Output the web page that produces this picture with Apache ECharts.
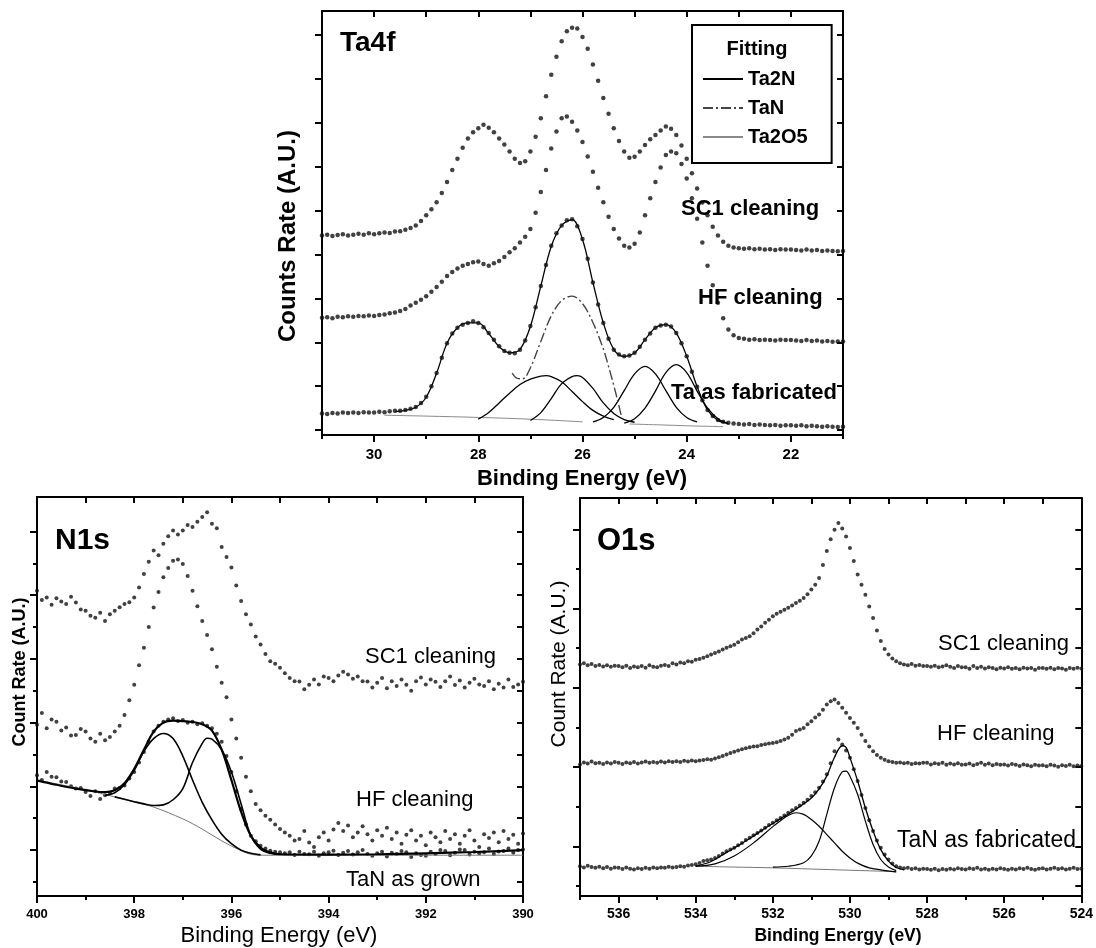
<!DOCTYPE html>
<html>
<head>
<meta charset="utf-8">
<title>XPS spectra: Ta4f, N1s, O1s</title>
<script src="https://cdn.jsdelivr.net/npm/echarts@6.0.0/dist/echarts.min.js"></script>
<style>
  html, body { margin: 0; padding: 0; background: #fff; }
  #chart { width: 1096px; height: 948px; }
</style>
</head>
<body>
<div id="chart"></div>
<script>
// ---------------- Ta4f panel (binding energy 31.0 -> 21.0 eV, step 0.1) ----------------
const ta4fStart = 31.0, ta4fStep = 0.1;
const ta4fSC1 = [
  4.43, 4.45, 4.42, 4.44, 4.46, 4.43, 4.45, 4.47, 4.45, 4.48,
  4.46, 4.48, 4.50, 4.49, 4.52, 4.53, 4.56, 4.60, 4.66, 4.76,
  4.89, 5.03, 5.19, 5.40, 5.65, 5.92, 6.18, 6.43, 6.64, 6.78,
  6.87, 6.95, 6.88, 6.78, 6.64, 6.50, 6.34, 6.18, 6.08, 6.12,
  6.34, 6.68, 7.10, 7.60, 8.09, 8.50, 8.85, 9.08, 9.16, 9.14,
  8.95, 8.68, 8.32, 7.95, 7.56, 7.20, 6.87, 6.58, 6.34, 6.20,
  6.22, 6.34, 6.49, 6.62, 6.72, 6.82, 6.91, 6.86, 6.72, 6.48,
  6.18, 5.85, 5.50, 5.18, 4.89, 4.63, 4.43, 4.29, 4.20, 4.16,
  4.14, 4.13, 4.14, 4.12, 4.13, 4.11, 4.12, 4.10, 4.12, 4.11,
  4.11, 4.10, 4.09, 4.11, 4.09, 4.10, 4.08, 4.09, 4.08, 4.07,
  4.08
];
const ta4fHF = [
  2.56, 2.57, 2.55, 2.58, 2.57, 2.59, 2.58, 2.60, 2.59, 2.61,
  2.60, 2.62, 2.63, 2.66, 2.68, 2.71, 2.76, 2.84, 2.90, 2.97,
  3.05, 3.15, 3.26, 3.38, 3.51, 3.60, 3.68, 3.74, 3.78, 3.82,
  3.84, 3.78, 3.74, 3.80, 3.85, 3.94, 4.05, 4.14, 4.27, 4.40,
  4.58, 4.95, 5.42, 5.92, 6.41, 6.80, 7.10, 7.14, 7.02, 6.82,
  6.56, 6.23, 5.88, 5.52, 5.19, 4.86, 4.58, 4.36, 4.20, 4.16,
  4.24, 4.50, 4.89, 5.28, 5.65, 5.98, 6.26, 6.34, 6.30, 6.06,
  5.73, 5.28, 4.81, 4.27, 3.74, 3.30, 2.90, 2.55, 2.29, 2.16,
  2.10, 2.08, 2.06, 2.07, 2.05, 2.06, 2.05, 2.04, 2.06, 2.05,
  2.05, 2.04, 2.03, 2.05, 2.03, 2.04, 2.02, 2.03, 2.01, 2.02,
  2.02
];
const ta4fAsFabricated = [
  0.38, 0.37, 0.39, 0.38, 0.40, 0.39, 0.40, 0.39, 0.41, 0.40,
  0.40, 0.42, 0.41, 0.43, 0.44, 0.44, 0.46, 0.49, 0.53, 0.62,
  0.76, 1.00, 1.30, 1.65, 1.98, 2.20, 2.33, 2.40, 2.44, 2.48,
  2.44, 2.34, 2.21, 2.06, 1.91, 1.80, 1.76, 1.75, 1.83, 2.04,
  2.37, 2.80, 3.28, 3.76, 4.20, 4.48, 4.66, 4.78, 4.80, 4.64,
  4.35, 3.90, 3.36, 2.86, 2.44, 2.08, 1.83, 1.72, 1.68, 1.70,
  1.76, 1.90, 2.06, 2.20, 2.33, 2.38, 2.40, 2.36, 2.21, 1.98,
  1.68, 1.33, 0.99, 0.68, 0.46, 0.32, 0.23, 0.19, 0.17, 0.15,
  0.14, 0.13, 0.14, 0.12, 0.13, 0.12, 0.11, 0.12, 0.10, 0.11,
  0.11, 0.10, 0.11, 0.09, 0.10, 0.09, 0.08, 0.09, 0.08, 0.07,
  0.08
];
// fitted components, [binding energy, counts]
const ta4fEnvelope = [[29.6,0.42],[29.4,0.45],[29.2,0.52],[29.0,0.75],[28.8,1.30],[28.6,1.98],[28.4,2.33],[28.2,2.44],[28.0,2.44],[27.8,2.20],[27.6,1.90],[27.4,1.76],[27.2,1.84],[27.0,2.36],[26.8,3.28],[26.6,4.18],[26.4,4.66],[26.2,4.79],[26.0,4.34],[25.8,3.36],[25.6,2.44],[25.4,1.84],[25.2,1.68],[25.0,1.76],[24.8,2.06],[24.6,2.33],[24.4,2.40],[24.2,2.21],[24.0,1.68],[23.8,0.99],[23.6,0.46],[23.4,0.22],[23.2,0.16]];
const ta4fBgHigh = [[29.8,0.34],[29.0,0.32],[28.0,0.29],[27.0,0.25],[26.0,0.19]];
const ta4fBgLow = [[25.1,0.14],[24.5,0.12],[24.0,0.10],[23.3,0.08]];
const ta4fPeakA = [[28.0,0.25],[27.8,0.40],[27.6,0.62],[27.4,0.84],[27.2,1.04],[27.0,1.16],[26.8,1.23],[26.7,1.24],[26.6,1.22],[26.4,1.10],[26.2,0.88],[26.0,0.65],[25.8,0.45],[25.6,0.32],[25.4,0.24]];
const ta4fPeakB = [[27.0,0.22],[26.8,0.40],[26.6,0.72],[26.4,1.06],[26.2,1.22],[26.1,1.24],[26.0,1.20],[25.8,0.95],[25.6,0.62],[25.4,0.38],[25.2,0.24],[25.0,0.18]];
const ta4fPeakC = [[25.8,0.19],[25.6,0.29],[25.4,0.52],[25.2,0.90],[25.0,1.28],[24.8,1.45],[24.6,1.28],[24.4,0.90],[24.2,0.52],[24.0,0.29],[23.8,0.19]];
const ta4fPeakD = [[25.2,0.16],[25.0,0.26],[24.8,0.50],[24.6,0.89],[24.4,1.31],[24.2,1.49],[24.0,1.31],[23.8,0.89],[23.6,0.50],[23.4,0.26],[23.2,0.14]];
const ta4fPeakTaN = [[27.35,1.30],[27.25,1.18],[27.15,1.17],[27.0,1.42],[26.8,2.02],[26.6,2.60],[26.4,2.95],[26.2,3.05],[26.0,2.88],[25.8,2.45],[25.6,1.85],[25.5,1.45],[25.4,1.02],[25.3,0.55],[25.25,0.30]];
const ta4fXMajor = [30, 28, 26, 24, 22];
const ta4fXMinor = [31, 29, 27, 25, 23, 21];
const ta4fYTicks = [0, 1, 2, 3, 4, 5, 6, 7, 8, 9];

// ---------------- N1s panel (400.0 -> 390.0 eV, step 0.1) ----------------
const n1sStart = 400.0, n1sStep = 0.1;
const n1sSC1 = [
  9.14, 8.85, 8.93, 8.70, 8.90, 8.80, 8.72, 8.95, 8.77, 8.55,
  8.51, 8.35, 8.29, 8.45, 8.19, 8.40, 8.51, 8.62, 8.72, 8.78,
  8.93, 9.24, 9.66, 10.05, 10.40, 10.25, 10.61, 10.85, 11.03, 10.90,
  11.03, 11.20, 11.14, 11.30, 11.45, 11.60, 11.24, 11.10, 10.51, 10.20,
  9.87, 9.30, 8.82, 8.40, 8.08, 7.70, 7.45, 7.15, 6.93, 6.85,
  6.72, 6.55, 6.40, 6.30, 6.29, 6.05, 6.19, 6.35, 6.20, 6.45,
  6.40, 6.30, 6.48, 6.60, 6.51, 6.38, 6.45, 6.30, 6.29, 6.10,
  6.25, 6.40, 6.08, 6.30, 6.15, 6.35, 6.19, 6.00, 6.30, 6.42,
  6.20, 6.35, 6.28, 6.12, 6.30, 6.45, 6.18, 6.32, 6.10, 6.25,
  6.38, 6.20, 6.15, 6.30, 6.05, 6.22, 6.10, 6.35, 6.12, 6.20,
  6.28
];
const n1sHF = [
  4.93, 5.30, 4.82, 5.10, 5.03, 4.75, 4.85, 4.60, 4.61, 4.80,
  4.72, 4.50, 4.40, 4.65, 4.45, 4.55, 4.72, 4.90, 5.24, 5.70,
  6.19, 6.80, 7.35, 8.00, 8.61, 9.10, 9.56, 9.85, 10.08, 10.12,
  9.98, 9.60, 9.14, 8.65, 8.19, 7.75, 7.30, 6.75, 6.25, 5.80,
  5.10, 4.50, 3.90, 3.30, 2.85, 2.45, 2.25, 2.08, 1.95, 1.80,
  1.66, 1.55, 1.45, 1.30, 1.35, 1.60, 1.24, 1.10, 1.40, 1.55,
  1.30, 1.65, 1.85, 1.60, 1.77, 1.40, 1.55, 1.75, 1.50, 1.30,
  1.62, 1.45, 1.70, 1.35, 1.55, 1.20, 1.48, 1.62, 1.30, 1.45,
  1.15, 1.55, 1.40, 1.25, 1.60, 1.35, 1.50, 1.20, 1.45, 1.62,
  1.30, 1.10, 1.50, 1.38, 1.55, 1.25, 1.60, 1.35, 1.48, 1.20,
  1.52
];
const n1sAsGrown = [
  3.35, 3.20, 3.45, 3.30, 3.29, 3.15, 3.14, 3.00, 2.93, 2.95,
  2.82, 2.70, 2.85, 2.60, 2.72, 2.80, 2.93, 2.95, 3.03, 3.25,
  3.45, 3.75, 4.08, 4.40, 4.72, 4.90, 5.03, 5.10, 5.14, 5.05,
  5.08, 5.00, 5.03, 4.95, 4.98, 4.90, 4.82, 4.65, 4.40, 3.95,
  3.45, 2.85, 2.29, 1.80, 1.45, 1.28, 1.14, 1.05, 0.98, 0.95,
  0.93, 0.90, 0.93, 0.85, 0.95, 0.88, 0.87, 0.95, 0.82, 0.90,
  0.93, 0.98, 0.85, 0.92, 0.97, 0.86, 0.93, 1.00, 0.88, 0.82,
  0.90, 0.95, 0.80, 0.92, 0.88, 0.97, 0.93, 0.78, 0.90, 0.85,
  0.82, 0.95, 0.88, 1.00, 0.97, 0.84, 0.92, 1.02, 1.00, 0.86,
  0.95, 0.90, 0.93, 1.05, 0.88, 0.96, 0.97, 1.05, 0.92, 1.00,
  1.02
];
const n1sEnvelope = [[400.0,3.19],[399.6,3.05],[399.2,2.93],[398.8,2.84],[398.6,2.82],[398.4,2.88],[398.2,3.10],[398.0,3.55],[397.8,4.15],[397.6,4.72],[397.4,5.00],[397.2,5.06],[397.0,5.05],[396.8,5.02],[396.6,4.95],[396.4,4.75],[396.2,4.15],[396.0,3.20],[395.8,2.20],[395.6,1.45],[395.4,1.08],[395.2,0.93],[395.0,0.87],[394.0,0.86],[393.0,0.87],[392.0,0.90],[391.0,0.94],[390.0,1.00]];
const n1sBackground = [[400.0,3.19],[399.5,3.05],[399.0,2.89],[398.4,2.67],[398.0,2.51],[397.6,2.35],[397.0,1.98],[396.6,1.66],[396.2,1.29],[395.8,0.98],[395.6,0.87],[395.4,0.84],[394.0,0.84],[392.0,0.84],[390.0,0.84]];
const n1sPeakA = [[398.6,2.72],[398.4,2.80],[398.2,3.05],[398.0,3.50],[397.8,4.10],[397.6,4.50],[397.4,4.66],[397.2,4.50],[397.0,3.95],[396.8,3.20],[396.6,2.50],[396.4,1.95],[396.2,1.50],[396.0,1.20],[395.8,1.00],[395.6,0.90],[395.4,0.85]];
const n1sPeakB = [[398.4,2.67],[398.0,2.52],[397.8,2.45],[397.6,2.40],[397.4,2.42],[397.2,2.58],[397.0,2.93],[396.8,3.75],[396.6,4.35],[396.5,4.51],[396.4,4.48],[396.2,4.15],[396.0,3.45],[395.8,2.45],[395.6,1.45],[395.4,1.03],[395.2,0.90],[395.0,0.87]];
const n1sXMajor = [400, 398, 396, 394, 392, 390];
const n1sXMinor = [399, 397, 395, 393, 391];
const n1sYMajor = [1, 3, 5, 7, 9, 11];
const n1sYMinor = [0, 2, 4, 6, 8, 10];

// ---------------- O1s panel (537.0 -> 524.0 eV, step 0.1) ----------------
const o1sStart = 537.0, o1sStep = 0.1;
const o1sSC1 = [
  5.59, 5.62, 5.57, 5.60, 5.55, 5.58, 5.54, 5.57, 5.53, 5.56,
  5.55, 5.52, 5.56, 5.50, 5.54, 5.52, 5.55, 5.51, 5.57, 5.53,
  5.52, 5.56, 5.58, 5.55, 5.62, 5.59, 5.64, 5.62, 5.67, 5.66,
  5.71, 5.73, 5.76, 5.80, 5.84, 5.88, 5.92, 5.97, 6.01, 6.05,
  6.09, 6.15, 6.22, 6.26, 6.30, 6.38, 6.47, 6.55, 6.64, 6.72,
  6.81, 6.87, 6.92, 6.97, 7.02, 7.08, 7.14, 7.20, 7.27, 7.36,
  7.48, 7.60, 7.77, 8.10, 8.45, 8.75, 8.99, 9.16, 9.02, 8.82,
  8.53, 8.20, 7.86, 7.60, 7.35, 7.05, 6.76, 6.45, 6.18, 5.98,
  5.84, 5.74, 5.67, 5.62, 5.59, 5.57, 5.60, 5.56, 5.58, 5.55,
  5.55, 5.53, 5.56, 5.52, 5.54, 5.57, 5.53, 5.50, 5.55, 5.52,
  5.52, 5.48, 5.55, 5.50, 5.53, 5.49, 5.52, 5.50, 5.47, 5.51,
  5.49, 5.52, 5.48, 5.50, 5.47, 5.51, 5.49, 5.50, 5.46, 5.50,
  5.50, 5.48, 5.51, 5.47, 5.50, 5.49, 5.46, 5.50, 5.48, 5.51,
  5.49
];
const o1sHF = [
  3.07, 3.12, 3.09, 3.14, 3.10, 3.11, 3.08, 3.12, 3.09, 3.13,
  3.11, 3.08, 3.12, 3.10, 3.13, 3.09, 3.12, 3.14, 3.11, 3.13,
  3.11, 3.14, 3.12, 3.15, 3.13, 3.15, 3.13, 3.16, 3.14, 3.17,
  3.15, 3.17, 3.18, 3.20, 3.19, 3.22, 3.25, 3.28, 3.32, 3.36,
  3.39, 3.42, 3.45, 3.48, 3.50, 3.52, 3.53, 3.56, 3.58, 3.60,
  3.61, 3.63, 3.66, 3.70, 3.74, 3.82, 3.91, 3.95, 3.99, 4.08,
  4.16, 4.25, 4.33, 4.45, 4.58, 4.66, 4.71, 4.62, 4.50, 4.37,
  4.24, 4.12, 3.99, 3.82, 3.66, 3.52, 3.40, 3.31, 3.24, 3.19,
  3.15, 3.13, 3.11, 3.12, 3.10, 3.11, 3.08, 3.10, 3.09, 3.11,
  3.11, 3.07, 3.10, 3.08, 3.11, 3.06, 3.09, 3.07, 3.10, 3.06,
  3.07, 3.09, 3.05, 3.08, 3.11, 3.06, 3.09, 3.05, 3.08, 3.06,
  3.07, 3.04, 3.08, 3.06, 3.03, 3.07, 3.05, 3.02, 3.06, 3.04,
  3.05, 3.02, 3.06, 3.04, 3.01, 3.05, 3.03, 3.06, 3.02, 3.04,
  3.03
];
const o1sAsFabricated = [
  0.50, 0.47, 0.51, 0.48, 0.46, 0.49, 0.45, 0.48, 0.44, 0.47,
  0.46, 0.43, 0.47, 0.44, 0.42, 0.45, 0.43, 0.46, 0.44, 0.47,
  0.45, 0.47, 0.46, 0.49, 0.47, 0.48, 0.50, 0.49, 0.52, 0.53,
  0.55, 0.58, 0.63, 0.65, 0.67, 0.71, 0.76, 0.82, 0.88, 0.92,
  0.97, 1.03, 1.09, 1.16, 1.22, 1.28, 1.34, 1.40, 1.47, 1.54,
  1.60, 1.66, 1.72, 1.78, 1.85, 1.91, 1.97, 2.03, 2.10, 2.18,
  2.27, 2.37, 2.48, 2.64, 2.82, 3.10, 3.40, 3.70, 3.57, 3.42,
  3.24, 2.95, 2.65, 2.30, 1.97, 1.66, 1.39, 1.15, 0.97, 0.80,
  0.67, 0.57, 0.50, 0.47, 0.45, 0.46, 0.43, 0.45, 0.42, 0.44,
  0.43, 0.41, 0.44, 0.40, 0.43, 0.41, 0.44, 0.42, 0.45, 0.43,
  0.42, 0.45, 0.43, 0.46, 0.42, 0.44, 0.41, 0.44, 0.42, 0.45,
  0.43, 0.41, 0.44, 0.42, 0.45, 0.43, 0.46, 0.43, 0.41, 0.44,
  0.45, 0.42, 0.44, 0.46, 0.43, 0.45, 0.42, 0.44, 0.46, 0.43,
  0.44
];
const o1sEnvelope = [[534.0,0.50],[533.6,0.62],[533.2,0.85],[533.0,0.96],[532.6,1.20],[532.2,1.46],[531.8,1.70],[531.4,1.94],[531.0,2.22],[530.8,2.45],[530.6,2.78],[530.4,3.25],[530.2,3.54],[530.1,3.50],[530.0,3.24],[529.8,2.65],[529.6,1.97],[529.4,1.39],[529.2,0.92],[529.0,0.63],[528.8,0.47],[528.6,0.41]];
const o1sBackground = [[534.0,0.50],[533.0,0.48],[532.0,0.46],[531.0,0.43],[530.0,0.40],[529.0,0.37],[528.8,0.36]];
const o1sPeakA = [[534.0,0.50],[533.5,0.56],[533.0,0.76],[532.5,1.09],[532.0,1.50],[531.8,1.65],[531.6,1.78],[531.4,1.85],[531.2,1.81],[531.0,1.68],[530.8,1.51],[530.6,1.30],[530.4,1.09],[530.2,0.88],[530.0,0.71],[529.8,0.58],[529.5,0.46],[529.2,0.41],[528.8,0.36]];
const o1sPeakB = [[532.0,0.48],[531.6,0.50],[531.2,0.59],[531.0,0.76],[530.8,1.13],[530.6,1.81],[530.4,2.48],[530.2,2.88],[530.1,2.90],[530.0,2.77],[529.8,2.31],[529.6,1.64],[529.4,1.05],[529.2,0.67],[529.0,0.48],[528.8,0.39]];
const o1sXMajor = [536, 534, 532, 530, 528, 526, 524];
const o1sXMinor = [537, 535, 533, 531, 529, 527, 525];
const o1sYMajor = [1, 3, 5, 7, 9];
const o1sYMinor = [0, 2, 4, 6, 8];

// ---------------- helpers ----------------
const FONT = '"Liberation Sans", Arial, Helvetica, sans-serif';
const BLACK = '#000';

// pair each count with its binding energy on the uniform scan grid
function scan(start, step, values) {
  return values.map((v, i) => [Math.round((start - i * step) * 100) / 100, v]);
}

function xAxes(g, min, max, major, minor, label) {
  const common = { gridIndex: g, type: 'value', min, max, inverse: true, splitLine: { show: false } };
  return [
    Object.assign({}, common, {
      position: 'bottom',
      axisLine: { show: true, onZero: false, lineStyle: { color: BLACK, width: 2 } },
      axisTick: { show: true, inside: false, length: 7, customValues: major, lineStyle: { color: BLACK, width: 2 } },
      axisLabel: { show: true, customValues: major, margin: label.margin, color: BLACK,
                   fontFamily: FONT, fontSize: label.size, fontWeight: label.weight }
    }),
    Object.assign({}, common, {
      position: 'bottom',
      axisLine: { show: false, onZero: false },
      axisTick: { show: true, inside: false, length: 4, customValues: minor, lineStyle: { color: BLACK, width: 2 } },
      axisLabel: { show: false }
    }),
    Object.assign({}, common, {
      position: 'top',
      axisLine: { show: true, onZero: false, lineStyle: { color: BLACK, width: 2 } },
      axisTick: { show: true, inside: true, length: 6, customValues: major.concat(minor), lineStyle: { color: BLACK, width: 2 } },
      axisLabel: { show: false }
    })
  ];
}

function yAxes(g, min, max, major, minor) {
  const common = { gridIndex: g, type: 'value', min, max, splitLine: { show: false }, axisLabel: { show: false } };
  return [
    Object.assign({}, common, {
      position: 'left',
      axisLine: { show: true, onZero: false, lineStyle: { color: BLACK, width: 2 } },
      axisTick: { show: true, inside: false, length: 7, customValues: major, lineStyle: { color: BLACK, width: 2 } }
    }),
    Object.assign({}, common, {
      position: 'left',
      axisLine: { show: false, onZero: false },
      axisTick: { show: minor.length > 0, inside: false, length: 4, customValues: minor.length ? minor : [min], lineStyle: { color: BLACK, width: 2 } }
    }),
    Object.assign({}, common, {
      position: 'right',
      axisLine: { show: true, onZero: false, lineStyle: { color: BLACK, width: 2 } },
      axisTick: { show: true, inside: true, length: 6, customValues: major.concat(minor), lineStyle: { color: BLACK, width: 2 } }
    })
  ];
}

function dots(g, data, size) {
  return { type: 'scatter', xAxisIndex: 3 * g, yAxisIndex: 3 * g, data, symbol: 'circle',
           symbolSize: size, itemStyle: { color: '#111' }, silent: true, z: 3 };
}

// fitted curve; the transparent item colour keeps the legend swatch a plain line
function curve(g, name, data, lineStyle, z) {
  return { type: 'line', name, xAxisIndex: 3 * g, yAxisIndex: 3 * g, data, symbol: 'none',
           smooth: 0.35, lineStyle, itemStyle: { color: 'rgba(0,0,0,0)', borderColor: 'rgba(0,0,0,0)' },
           silent: true, z: z || 4 };
}

function text(x, y, str, size, weight, align, rotation) {
  return { type: 'text', x, y, rotation: rotation || 0, silent: true, z: 100,
           style: { text: str, fill: BLACK, fontFamily: FONT, fontSize: size, fontWeight: weight,
                    textAlign: align || 'left', align: align || 'left',
                    textVerticalAlign: 'middle', verticalAlign: 'middle' } };
}

// ---------------- styles of the fitted curves ----------------
const styleTa2N = { color: '#000', width: 1.3 };
const styleTaN = { color: '#444', width: 1.4, type: [10, 3, 2, 3] };
const styleTa2O5 = { color: '#8a8a8a', width: 1 };

const option = {
  backgroundColor: '#fff',
  animation: false,
  grid: [
    { left: 322, top: 11, width: 521, height: 424 },
    { left: 37, top: 497, width: 486, height: 399 },
    { left: 580, top: 498, width: 502, height: 398 }
  ],
  xAxis: [].concat(
    xAxes(0, 21, 31, ta4fXMajor, ta4fXMinor, { size: 15, weight: 'bold', margin: 12 }),
    xAxes(1, 390, 400, n1sXMajor, n1sXMinor, { size: 13, weight: 'bold', margin: 12 }),
    xAxes(2, 524, 537, o1sXMajor, o1sXMinor, { size: 14, weight: 'bold', margin: 11 })
  ),
  yAxis: [].concat(
    yAxes(0, -0.11, 9.54, ta4fYTicks, []),
    yAxes(1, -0.44, 12.08, n1sYMajor, n1sYMinor),
    yAxes(2, -0.25, 9.79, o1sYMajor, o1sYMinor)
  ),
  legend: {
    data: ['Ta2N', 'TaN', 'Ta2O5'],
    orient: 'vertical',
    left: 692, top: 25,
    padding: [44, 24, 16, 10],
    itemGap: 9,
    itemWidth: 40, itemHeight: 14,
    borderColor: BLACK, borderWidth: 2, borderRadius: 0,
    selectedMode: false,
    textStyle: { color: BLACK, fontFamily: FONT, fontSize: 20, fontWeight: 'bold' }
  },
  graphic: [
    text(340, 43, 'Ta4f', 28, 'bold'),
    text(757, 49, 'Fitting', 20, 'bold', 'center'),
    text(681, 209, 'SC1 cleaning', 22, 'bold'),
    text(698, 298, 'HF cleaning', 22, 'bold'),
    text(671, 393, 'Ta as fabricated', 22, 'bold'),
    text(288, 236, 'Counts Rate (A.U.)', 24, 'bold', 'center', Math.PI / 2),
    text(582, 479, 'Binding Energy (eV)', 22, 'bold', 'center'),

    text(55, 541, 'N1s', 30, 'bold'),
    text(365, 657, 'SC1 cleaning', 22, 'normal'),
    text(356, 800, 'HF cleaning', 22, 'normal'),
    text(346, 880, 'TaN as grown', 22, 'normal'),
    text(20, 672, 'Count Rate (A.U.)', 18, 'bold', 'center', Math.PI / 2),
    text(279, 936, 'Binding Energy (eV)', 22, 'normal', 'center'),

    text(597, 541, 'O1s', 31, 'bold'),
    text(938, 644, 'SC1 cleaning', 22, 'normal'),
    text(937, 734, 'HF cleaning', 22, 'normal'),
    text(897, 841, 'TaN as fabricated', 23, 'normal'),
    text(559, 664, 'Count Rate (A.U.)', 21, 'normal', 'center', Math.PI / 2),
    text(838, 936, 'Binding Energy (eV)', 17.5, 'bold', 'center')
  ],
  series: [
    // Ta4f measured spectra
    dots(0, scan(ta4fStart, ta4fStep, ta4fSC1), 4.5),
    dots(0, scan(ta4fStart, ta4fStep, ta4fHF), 4.5),
    dots(0, scan(ta4fStart, ta4fStep, ta4fAsFabricated), 4.5),
    // Ta4f fit: overall envelope under the points, backgrounds and components
    curve(0, 'Ta4f envelope', ta4fEnvelope, { color: '#000', width: 1.3 }, 2),
    curve(0, 'Ta2O5', ta4fBgHigh, styleTa2O5),
    curve(0, 'Ta2O5', ta4fBgLow, styleTa2O5),
    curve(0, 'Ta2N', ta4fPeakA, styleTa2N),
    curve(0, 'Ta2N', ta4fPeakB, styleTa2N),
    curve(0, 'Ta2N', ta4fPeakC, styleTa2N),
    curve(0, 'Ta2N', ta4fPeakD, styleTa2N),
    curve(0, 'TaN', ta4fPeakTaN, styleTaN),

    // N1s measured spectra
    dots(1, scan(n1sStart, n1sStep, n1sSC1), 4),
    dots(1, scan(n1sStart, n1sStep, n1sHF), 4),
    dots(1, scan(n1sStart, n1sStep, n1sAsGrown), 4),
    // N1s fit
    curve(1, 'N1s background', n1sBackground, { color: '#777', width: 1 }),
    curve(1, 'N1s peak A', n1sPeakA, { color: '#000', width: 1.6 }),
    curve(1, 'N1s peak B', n1sPeakB, { color: '#000', width: 1.6 }),
    curve(1, 'N1s envelope', n1sEnvelope, { color: '#000', width: 2.2 }),

    // O1s measured spectra
    dots(2, scan(o1sStart, o1sStep, o1sSC1), 4),
    dots(2, scan(o1sStart, o1sStep, o1sHF), 4),
    dots(2, scan(o1sStart, o1sStep, o1sAsFabricated), 4),
    // O1s fit
    curve(2, 'O1s background', o1sBackground, { color: '#777', width: 1 }),
    curve(2, 'O1s peak A', o1sPeakA, { color: '#000', width: 1.2 }),
    curve(2, 'O1s peak B', o1sPeakB, { color: '#000', width: 1.2 }),
    curve(2, 'O1s envelope', o1sEnvelope, { color: '#000', width: 1.3 })
  ]
};

const chart = echarts.init(document.getElementById('chart'), null, { renderer: 'canvas' });
chart.setOption(option);
</script>
</body>
</html>
